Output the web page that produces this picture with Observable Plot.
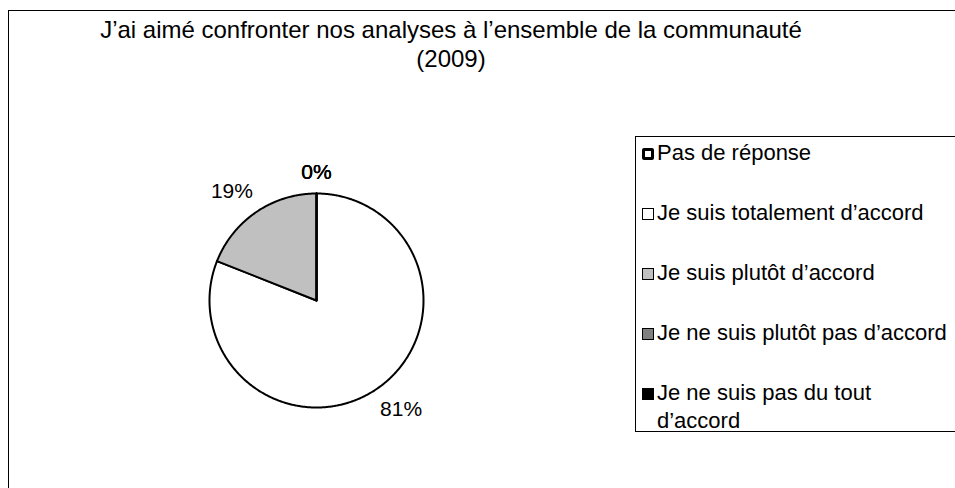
<!DOCTYPE html>
<html>
<head>
<meta charset="utf-8">
<script src="https://cdn.jsdelivr.net/npm/d3@7"></script>
<script src="https://cdn.jsdelivr.net/npm/@observablehq/plot@0.6"></script>
<style>
  html, body { margin: 0; padding: 0; background: #fff; overflow: hidden; }
  #wrap { position: relative; width: 955px; height: 488px; overflow: hidden; background: #fff;
          font-family: "Liberation Sans", Arial, sans-serif; color: #000; }
  #chart { position: absolute; left: 0; top: 0; }
  #frame { position: absolute; left: 8px; top: 10px; width: 1100px; height: 700px;
           border: 1.5px solid #000; box-sizing: border-box; pointer-events: none; }
  #title { position: absolute; left: 0; top: 16px; width: 902px; text-align: center;
           font-size: 24px; line-height: 28.5px; }
  #legend { position: absolute; left: 635px; top: 136px; width: 500px; height: 296px;
            border: 1.2px solid #000; box-sizing: border-box; }
  .item { position: absolute; left: 0; }
  .sw { position: absolute; left: 6px; width: 12px; height: 12px; box-sizing: border-box;
        border: 1.5px solid #000; }
  .lbl { position: absolute; left: 21px; width: 294px; font-size: 22px; line-height: 28px; white-space: normal; }
</style>
</head>
<body>
<div id="wrap">
  <div id="chart"></div>
  <div id="frame"></div>
  <div id="title"></div>
  <div id="legend"></div>
</div>
<script>
// ---- data ----
const titleLines = ["J’ai aimé confronter nos analyses à l’ensemble de la communauté", "(2009)"];
const categories = [
  "Pas de réponse",
  "Je suis totalement d’accord",
  "Je suis plutôt d’accord",
  "Je ne suis plutôt pas d’accord",
  "Je ne suis pas du tout d’accord"
];
const values = [0, 81, 19, 0, 0];
const colors = ["#ffffff", "#ffffff", "#c0c0c0", "#808080", "#000000"];

// ---- build slices (clockwise from 12 o'clock) ----
const total = d3.sum(values);
let acc = 0;
const slices = categories.map((c, i) => {
  const a0 = acc / total * 2 * Math.PI;
  acc += values[i];
  const a1 = acc / total * 2 * Math.PI;
  return {category: c, value: values[i], a0, a1, mid: (a0 + a1) / 2, color: colors[i]};
});

const pts = [];
slices.forEach(s => {
  pts.push({category: s.category, x: 0, y: 0});
  const n = Math.max(1, Math.ceil((s.a1 - s.a0) / (Math.PI / 360)));
  for (let k = 0; k <= n; k++) {
    const a = s.a0 + (s.a1 - s.a0) * k / n;
    pts.push({category: s.category, x: Math.sin(a), y: Math.cos(a)});
  }
  pts.push({category: s.category, x: 0, y: 0});
});

const sgn = v => Math.abs(v) < 0.01 ? 0 : Math.sign(v);
const labels = slices.map(s => ({
  text: Math.round(s.value / total * 100) + "%",
  x: 1.05 * Math.sin(s.mid) + sgn(Math.sin(s.mid)) * 0.2,
  y: 1.05 * Math.cos(s.mid) + sgn(Math.cos(s.mid)) * 0.15
}));

const plot = Plot.plot({
  width: 955,
  height: 488,
  marginLeft: 209,
  marginRight: 532,
  marginTop: 193,
  marginBottom: 81,
  style: {background: "transparent", fontFamily: "'Liberation Sans', Arial, sans-serif"},
  x: {domain: [-1, 1], axis: null},
  y: {domain: [-1, 1], axis: null},
  color: {domain: categories, range: colors},
  marks: [
    Plot.line(pts, {x: "x", y: "y", z: "category", fill: "category", stroke: "#000",
                    strokeWidth: 2, strokeLinejoin: "round", curve: "linear"}),
    Plot.text(labels, {x: "x", y: "y", text: "text", fontSize: 21, fill: "#000"})
  ]
});
document.getElementById("chart").appendChild(plot);

// ---- title ----
document.getElementById("title").innerHTML = titleLines.join("<br>");

// ---- legend ----
const legend = document.getElementById("legend");
categories.forEach((c, i) => {
  const item = document.createElement("div");
  item.className = "item";
  item.style.top = (2 + i * 60) + "px";
  const sw = document.createElement("div");
  sw.className = "sw";
  sw.style.top = "9px";
  sw.style.background = colors[i];
  if (i === 0) { sw.style.borderWidth = "3px"; sw.style.borderRadius = "2px"; }
  const lbl = document.createElement("div");
  lbl.className = "lbl";
  lbl.textContent = c;
  item.appendChild(sw);
  item.appendChild(lbl);
  legend.appendChild(item);
});
</script>
</body>
</html>
